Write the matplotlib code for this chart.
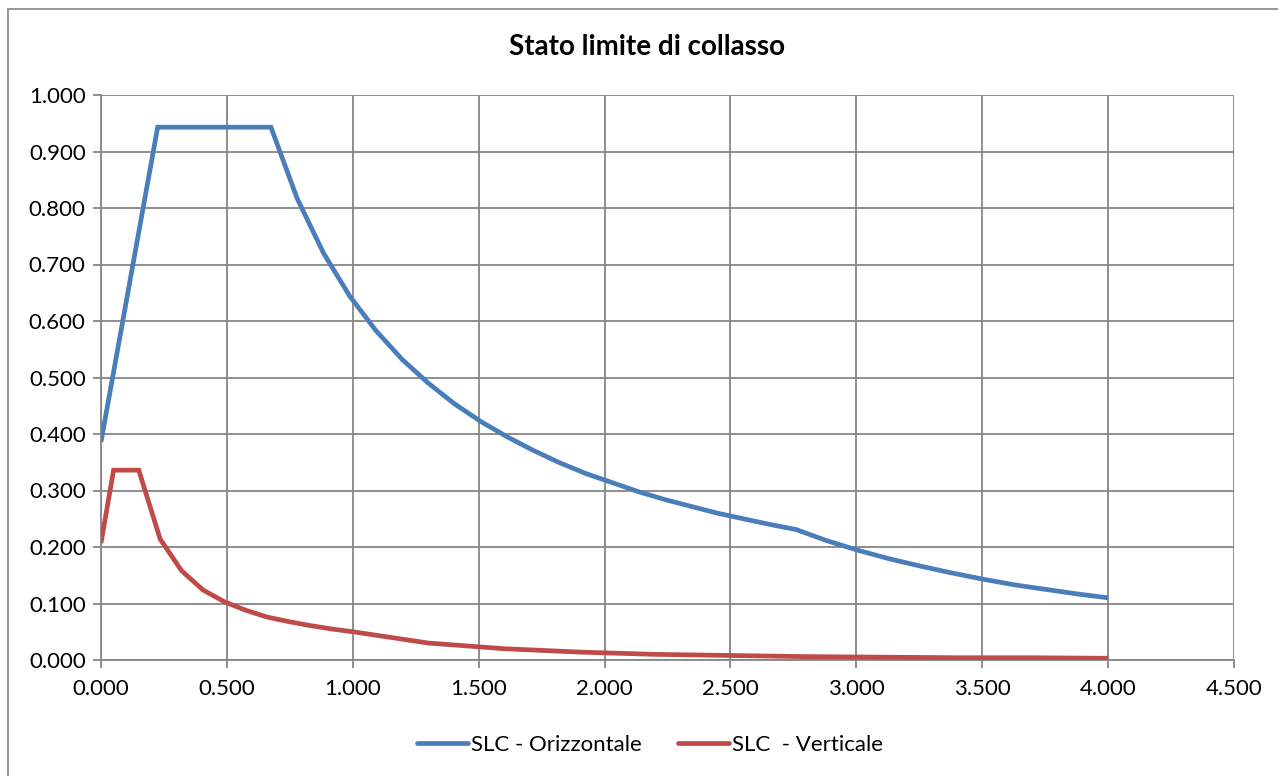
import matplotlib
matplotlib.use("Agg")
import matplotlib.pyplot as plt
from matplotlib.patches import Rectangle

plt.rcParams['font.family'] = ['Lato', 'DejaVu Sans']

title = "Stato limite di collasso"
series_names = ["SLC - Orizzontale", "SLC  - Verticale"]

# Horizontal spectrum (period T [s], Se [g])
T_h = [0.000, 0.225, 0.675, 0.779, 0.884, 0.988, 1.092, 1.196, 1.300, 1.405,
       1.509, 1.613, 1.717, 1.822, 1.926, 2.030, 2.134, 2.239, 2.343, 2.447,
       2.551, 2.656, 2.760, 2.884, 3.008, 3.132, 3.256, 3.380, 3.504, 3.628,
       3.752, 3.876, 4.000]
S_h = [0.386, 0.943, 0.943, 0.817, 0.720, 0.644, 0.583, 0.532, 0.490, 0.453,
       0.422, 0.395, 0.371, 0.349, 0.330, 0.314, 0.298, 0.284, 0.272, 0.260,
       0.250, 0.240, 0.231, 0.211, 0.194, 0.179, 0.166, 0.154, 0.143, 0.133,
       0.125, 0.117, 0.110]

# Vertical spectrum
T_v = [0.000, 0.050, 0.150, 0.235, 0.320, 0.405, 0.490, 0.575, 0.660, 0.745,
       0.830, 0.915, 1.000, 1.300, 1.600, 1.900, 2.200, 2.500, 2.800, 3.100,
       3.400, 3.700, 4.000]
S_v = [0.207, 0.336, 0.336, 0.214, 0.158, 0.124, 0.103, 0.088, 0.076, 0.068,
       0.061, 0.055, 0.050, 0.030, 0.020, 0.014, 0.010, 0.008, 0.006, 0.005,
       0.004, 0.004, 0.003]

x_ticks = [0.0, 0.5, 1.0, 1.5, 2.0, 2.5, 3.0, 3.5, 4.0, 4.5]
y_ticks = [0.0, 0.1, 0.2, 0.3, 0.4, 0.5, 0.6, 0.7, 0.8, 0.9, 1.0]

blue = "#4A7EBB"
red = "#BE4B48"
grid_c = "#868686"

W, H = 1278, 776
fig = plt.figure(figsize=(W / 100, H / 100), dpi=100)
fig.patch.set_facecolor("white")

# outer chart border
fig.patches.append(Rectangle((8 / W, -0.01), 1.02, (H - 9) / H + 0.01, transform=fig.transFigure,
                             fill=False, edgecolor=grid_c, linewidth=1.2))

ax = fig.add_axes([101 / W, 1 - 660 / H, (1234 - 101) / W, (660 - 95) / H])
ax.plot(T_h, S_h, color=blue, linewidth=3.4, solid_joinstyle="miter", solid_capstyle="butt",
        label=series_names[0], zorder=3)
ax.plot(T_v, S_v, color=red, linewidth=3.4, solid_joinstyle="miter", solid_capstyle="butt",
        label=series_names[1], zorder=3)

ax.set_xlim(0, 4.5)
ax.set_ylim(0, 1.0)
ax.set_xticks(x_ticks)
ax.set_yticks(y_ticks)
ax.set_xticklabels([f"{v:.3f}" for v in x_ticks])
ax.set_yticklabels([f"{v:.3f}" for v in y_ticks])
ax.grid(True, color=grid_c, linewidth=1.3, zorder=1)
ax.set_axisbelow(True)
for s in ["top", "right"]:
    ax.spines[s].set_visible(False)
for s in ["left", "bottom"]:
    ax.spines[s].set_color(grid_c)
    ax.spines[s].set_linewidth(1.3)
ax.tick_params(axis="both", direction="out", length=6, width=1.3, color=grid_c,
               labelsize=16, labelcolor="black")
ax.tick_params(axis="x", pad=8)
ax.tick_params(axis="y", pad=5)

fig.text(647 / W, 1 - 47 / H, title, ha="center", va="center", fontsize=20, fontweight="bold")

leg = fig.legend(loc="center", bbox_to_anchor=(650 / W, 1 - 745 / H), ncol=2, frameon=False,
                 fontsize=16, handlelength=2.3, handletextpad=0.15, columnspacing=1.6)
for l in leg.get_lines():
    l.set_solid_capstyle("round")

fig.savefig("out.png", dpi=100, facecolor="white")
